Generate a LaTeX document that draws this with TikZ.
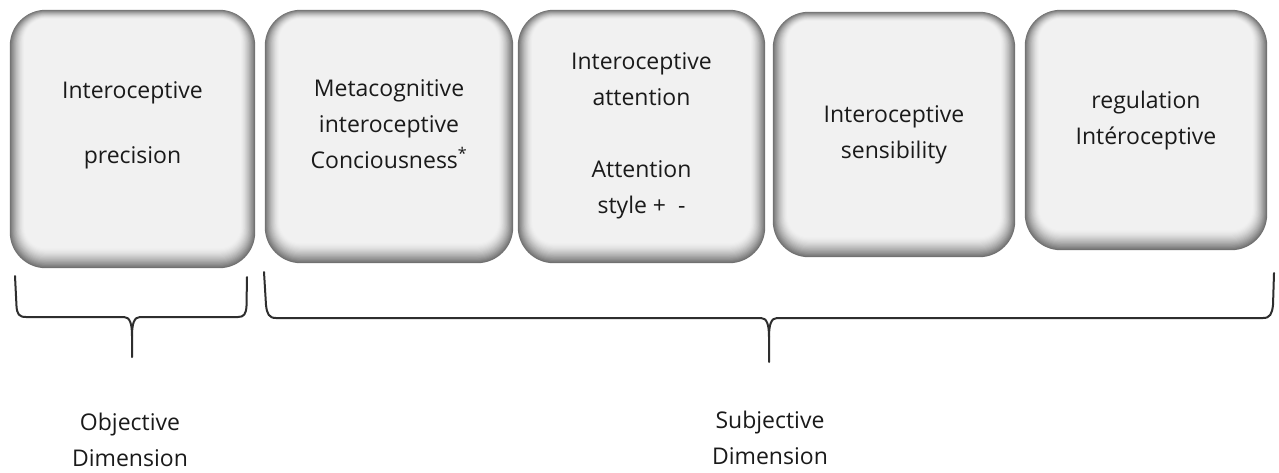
\documentclass[tikz,border=0pt]{standalone}
\usepackage{fontspec}
\setmainfont{Open Sans}
\usetikzlibrary{calc}
\definecolor{boxlight}{HTML}{F1F1F1}
\definecolor{boxdark}{HTML}{707070}
\definecolor{txt}{HTML}{1A1A1A}
\tikzset{
  boxshape/.style={rectangle, inner sep=0pt, draw=none},
  boxtext/.style={align=center, text=txt, font=\fontsize{23}{36}\selectfont, inner sep=0pt},
  bracepath/.style={draw=black!82, line width=2pt, line join=round, line cap=round},
}
\newcommand\bevelbox[1]{%
  \foreach \i in {0,...,18}{%
    \pgfmathsetmacro\mixp{100*(1-\i/18)^1.5}%
    \pgfmathsetmacro\rad{36-0.8*\i}%
    \fill[color=boxdark!\mixp!boxlight, rounded corners=\rad pt]
      ($(#1.north west)+(\i*0.8,\i*0.5)$) rectangle ($(#1.south east)+(-\i*0.8,-\i*1.1)$);
  }%
}
\begin{document}
\begin{tikzpicture}[x=1pt,y=-1pt]
\fill[white] (0,0) rectangle (1279,472);
\useasboundingbox (0,0) rectangle (1279,472);

% box shapes
\node[boxshape, minimum width=245pt, minimum height=258pt] (b1) at (132.5,139) {};
\node[boxshape, minimum width=248pt, minimum height=253pt] (b2) at (389,136.5) {};
\node[boxshape, minimum width=247pt, minimum height=253pt] (b3) at (641.5,136.5) {};
\node[boxshape, minimum width=242pt, minimum height=245pt] (b4) at (894,134.5) {};
\node[boxshape, minimum width=242pt, minimum height=240pt] (b5) at (1146,130) {};

\bevelbox{b1}
\bevelbox{b2}
\bevelbox{b3}
\bevelbox{b4}
\bevelbox{b5}

% texts
\node[boxtext] (t1) at (132.5,125.5) {Interoceptive\\[29pt]precision};
\node[boxtext] (t2) at (389,124) {Metacognitive\\interoceptive\\Conciousness\textsuperscript{*}};
\node[boxtext] (t3) at (641.5,135.5) {Interoceptive\\attention\\[36pt]Attention\\style +\ \ -};
\node[boxtext] (t4) at (894,135) {Interoceptive\\sensibility};
\node[boxtext] (t5) at (1146,121) {regulation\\Intéroceptive};

% braces
\coordinate (objtip) at (132,357);
\coordinate (subtip) at (769,362);
\draw[bracepath] (15,276) -- (16.5,306) .. controls (17,314) and (19,317) .. (26,317) -- (124,317)
  .. controls (130,317) and (132,324) .. (132,336) -- (objtip);
\draw[bracepath] (132,336) .. controls (132,324) and (134,317) .. (140,317) -- (238,317)
  .. controls (244,317) and (246,314) .. (246.5,306) -- (247,277);
\draw[bracepath] (264,272) -- (266,305) .. controls (267,314) and (269,318) .. (276,318) -- (761,318)
  .. controls (767,318) and (769,325) .. (769,337) -- (subtip);
\draw[bracepath] (769,337) .. controls (769,325) and (771,318) .. (777,318) -- (1263,318)
  .. controls (1270,318) and (1272,314) .. (1273,305) -- (1274,273);

% labels
\node[boxtext] (obj) at (130,440) {Objective\\Dimension};
\node[boxtext] (sub) at (770,438) {Subjective\\Dimension};
\end{tikzpicture}
\end{document}
